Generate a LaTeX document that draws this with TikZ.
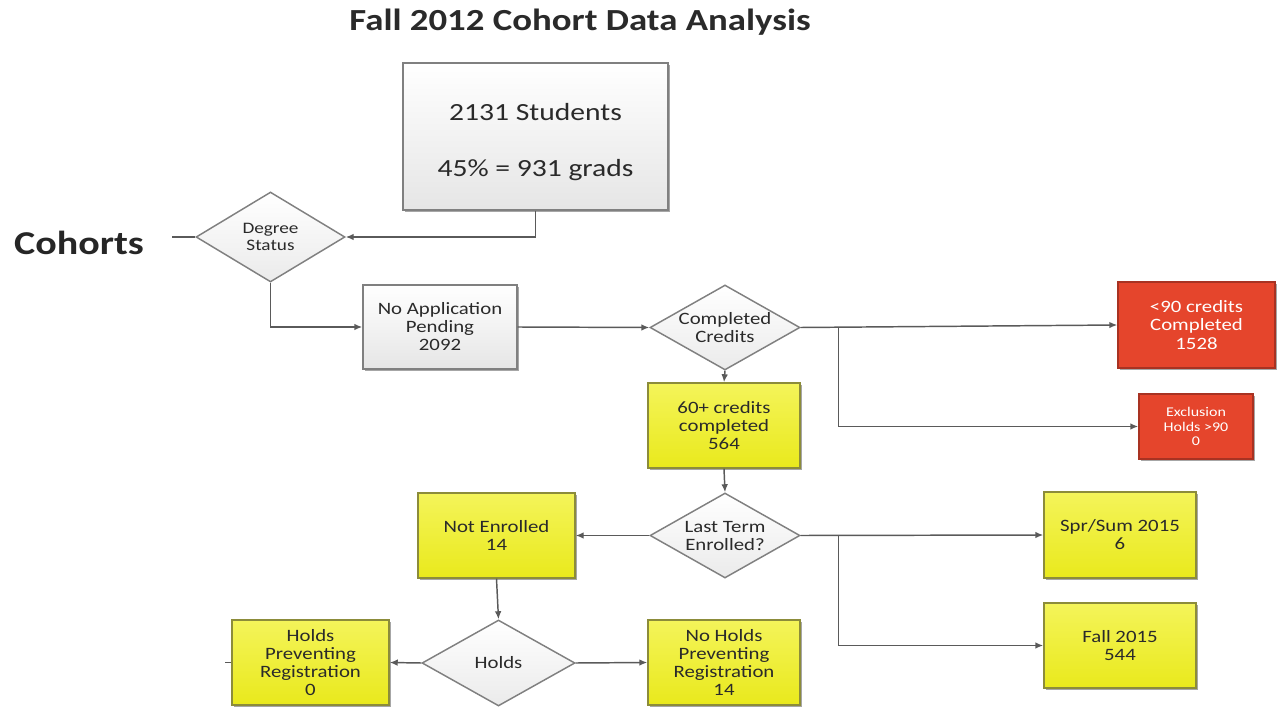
\documentclass[tikz,border=0pt]{standalone}
\usepackage{fontspec}
\setmainfont{Carlito}[FakeStretch=1.2]
\usetikzlibrary{shapes.geometric,shadows,arrows.meta}
\definecolor{linec}{HTML}{5A5A5A}
\definecolor{grayb}{HTML}{808080}
\definecolor{yelt}{HTML}{F4F45A}
\definecolor{yelb}{HTML}{E9E91C}
\definecolor{yelbd}{HTML}{8C8C3A}
\definecolor{redf}{HTML}{E5452C}
\definecolor{redbd}{HTML}{A83222}
\definecolor{txt}{HTML}{2A2A2A}
\tikzset{
  shad/.style={drop shadow={shadow xshift=1.8pt,shadow yshift=-1.8pt,opacity=0.35,fill=black}},
  graybox/.style={rectangle,draw=grayb,line width=1.1pt,top color=white,bottom color=black!10,shad,
     align=center,text=txt,inner sep=1pt,font=\fontsize{13}{13.5}\selectfont},
  yelbox/.style={rectangle,draw=yelbd,line width=1.1pt,top color=yelt,bottom color=yelb,shad,
     align=center,text=txt,inner sep=1pt,font=\fontsize{13}{13.5}\selectfont},
  redbox/.style={rectangle,draw=redbd,line width=1.1pt,fill=redf,shad,
     align=center,text=white,inner sep=1pt,font=\fontsize{13}{14}\selectfont},
  dia/.style={diamond,aspect=1.76,draw=grayb,line width=1.1pt,top color=white,bottom color=black!8,
     align=center,text=txt,inner sep=-3pt,font=\fontsize{13}{13.5}\selectfont},
  conn/.style={draw=linec,line width=1.1pt},
  arr/.style={conn,-{Latex[length=6pt,width=5pt]}},
}
\begin{document}
\begin{tikzpicture}[x=0.75pt,y=-0.75pt]
\useasboundingbox (0,0) rectangle (1279,709);
% title and side label
\node[font=\bfseries\fontsize{23}{26}\selectfont,text=txt] (title) at (580,22) {Fall 2012 Cohort Data Analysis};
\node[font=\bfseries\fontsize{25}{28}\selectfont,text=black!85] (cohorts) at (79,243) {Cohorts};
% nodes
\node[graybox,minimum width=198.75pt,minimum height=110.25pt,font=\fontsize{18.5}{22}\selectfont] (top) at (535.5,136.5)
  {\rule{0pt}{21pt}2131 Students\\[19.5pt]45\% = 931 grads};
\node[dia,minimum width=111.75pt,minimum height=67.5pt,font=\fontsize{12}{13}\selectfont] (ds) at (270.5,237) {Degree\\Status};
\node[graybox,minimum width=115.5pt,minimum height=63pt] (nap) at (440,327) {No Application\\Pending\\2092};
\node[dia,minimum width=112.5pt,minimum height=63.75pt] (cc) at (725,327.5) {Completed\\Credits};
\node[redbox,minimum width=117.75pt,minimum height=64.5pt] (r1) at (1196.5,325) {<90 credits\\Completed\\1528};
\node[redbox,minimum width=85.5pt,minimum height=48.75pt,font=\fontsize{10}{11}\selectfont] (r2) at (1196,426.5) {Exclusion\\Holds >90\\0};
\node[yelbox,minimum width=114pt,minimum height=63.75pt] (c60) at (724,425.5) {60+ credits\\completed\\564};
\node[dia,minimum width=112.5pt,minimum height=63.75pt] (lt) at (725,535.5) {Last Term\\Enrolled?};
\node[yelbox,minimum width=117.75pt,minimum height=63.75pt] (ne) at (496.5,535.5) {Not Enrolled\\14};
\node[yelbox,minimum width=114pt,minimum height=64.5pt] (ss) at (1120,535) {Spr/Sum 2015\\6};
\node[yelbox,minimum width=114pt,minimum height=63.75pt] (fall) at (1120,645.5) {Fall 2015\\544};
\node[dia,minimum width=114.75pt,minimum height=64.5pt] (holds) at (498.5,663) {Holds};
\node[yelbox,minimum width=117.75pt,minimum height=63.75pt] (hp) at (310.5,662.5) {Holds\\Preventing\\Registration\\0};
\node[yelbox,minimum width=114pt,minimum height=63.75pt] (nh) at (724,662.5) {No Holds\\Preventing\\Registration\\14};
% free ends
\coordinate (cstub) at (172,237);
\coordinate (hstub) at (225,662.5);
% connectors
\draw[conn] (cstub) -- (ds.west);
\draw[arr] (top.south) |- (ds.east);
\draw[arr] (ds.south) |- (nap.west);
\draw[arr] (nap.east) -- (cc.west);
\draw[arr] (cc.east) -- (r1.west);
\draw[arr] (cc.east) -- ++(38,0) |- (r2.west);
\draw[arr] (cc.south) -- (c60.north);
\draw[arr] (c60.south) -- (lt.north);
\draw[arr] (lt.west) -- (ne.east);
\draw[arr] (lt.east) -- (ss.west);
\draw[arr] (lt.east) -- ++(38,0) |- (fall.west);
\draw[arr] (ne.south) -- (holds.north);
\draw[arr] (holds.west) -- (hp.east);
\draw[arr] (holds.east) -- (nh.west);
\draw[conn] (hp.west) -- (hstub);
\end{tikzpicture}
\end{document}
